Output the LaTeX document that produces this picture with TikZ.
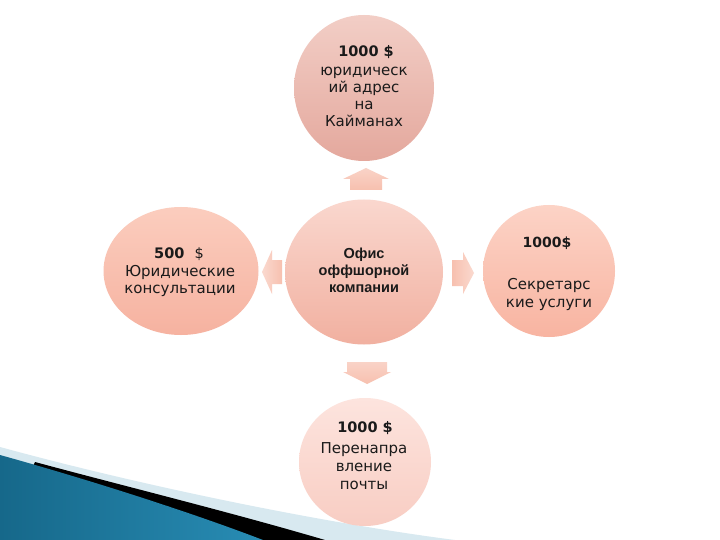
\documentclass[tikz,border=0pt]{standalone}
\usepackage{fontspec}
\setmainfont{DejaVu Sans}
\newfontfamily\arialfont{Liberation Sans}
\usetikzlibrary{shapes.geometric}
\definecolor{txt}{HTML}{1A1A1A}
\definecolor{arrowc}{HTML}{F7C0AF}
\begin{document}
\begin{tikzpicture}[x=1pt,y=-1pt,
  bubble/.style={ellipse, draw=none, inner sep=0pt},
  amount/.style={font=\fontsize{14.5}{16}\selectfont\bfseries, text=txt, inner sep=0pt},
  label/.style={font=\fontsize{15}{17.5}\selectfont, text=txt, align=center, inner sep=0pt},
  blockarrow/.style={top color=#1!70!white, bottom color=#1, draw=none}]
\useasboundingbox (0,0) rectangle (720,540);
\fill[white] (0,0) rectangle (720,540);

% swoosh
\fill[color={rgb,255:red,216;green,233;blue,240}] (0,447) .. controls (150,488) and (330,524) .. (455,540) -- (0,540) -- cycle;
\fill[black] (35,462) .. controls (120,485) and (230,512) .. (325,540) -- (0,540) -- cycle;
\shade[left color={rgb,255:red,22;green,104;blue,138}, middle color={rgb,255:red,88;green,180;blue,218}, right color={rgb,255:red,40;green,140;blue,180}]
  (0,455) .. controls (90,480) and (190,512) .. (263,540) -- (0,540) -- cycle;

% circles
\node[bubble, minimum width=140pt, minimum height=146pt, top color={rgb,255:red,242;green,206;blue,198}, bottom color={rgb,255:red,228;green,168;blue,157}] (top) at (364,88) {};
\node[bubble, minimum width=158pt, minimum height=145pt, top color={rgb,255:red,250;green,215;blue,206}, bottom color={rgb,255:red,241;green,176;blue,160}] (mid) at (364,272) {};
\node[bubble, minimum width=155pt, minimum height=128pt, top color={rgb,255:red,251;green,205;blue,190}, bottom color={rgb,255:red,246;green,178;blue,160}] (left) at (181,271) {};
\node[bubble, minimum width=132pt, minimum height=132pt, top color={rgb,255:red,252;green,211;blue,198}, bottom color={rgb,255:red,248;green,180;blue,161}] (right) at (549,271) {};
\node[bubble, minimum width=132pt, minimum height=128pt, top color={rgb,255:red,253;green,228;blue,222}, bottom color={rgb,255:red,248;green,205;blue,195}] (bot) at (365,462) {};

% block arrows
\shade[blockarrow=arrowc] (366,168) -- (389,179) -- (382,179) -- (382,190) -- (350,190) -- (350,179) -- (343,179) -- cycle;
\shade[blockarrow=arrowc] (347,362) -- (387,362) -- (387,372) -- (391,372) -- (367,384) -- (343,372) -- (347,372) -- cycle;
\shade[left color=arrowc!60!white, right color=arrowc] (262,272) -- (272,250) -- (272,260) -- (282,260) -- (282,284) -- (272,284) -- (272,294) -- cycle;
\shade[left color=arrowc, right color=arrowc!60!white] (452,260) -- (463,260) -- (463,252) -- (474,273) -- (463,294) -- (463,286) -- (452,286) -- cycle;

% texts
\node[amount] (topamt) at (366,52) {1000 \$};
\node[label, font=\fontsize{15}{16.8}\selectfont] (toptxt) at (364,97) {юридическ\\ий адрес\\на\\Кайманах};

\node[label, font=\fontsize{14.5}{17}\selectfont\arialfont\bfseries] (midtxt) at (364,270) {Офис\\оффшорной\\компании};

\node[amount] (leftamt) at (179,254) {500\ \ \mdseries\$};
\node[label] (lefttxt) at (180,281) {Юридические\\консультации};

\node[amount, font=\fontsize{14}{15}\selectfont\bfseries] (rightamt) at (547,243) {1000\$};
\node[label, font=\fontsize{15}{18}\selectfont] (righttxt) at (549,294) {Секретарс\\кие услуги};

\node[amount] (botamt) at (365,428) {1000 \$};
\node[label, font=\fontsize{15}{18}\selectfont] (bottxt) at (364,466) {Перенапра\\вление\\почты};
\end{tikzpicture}
\end{document}
